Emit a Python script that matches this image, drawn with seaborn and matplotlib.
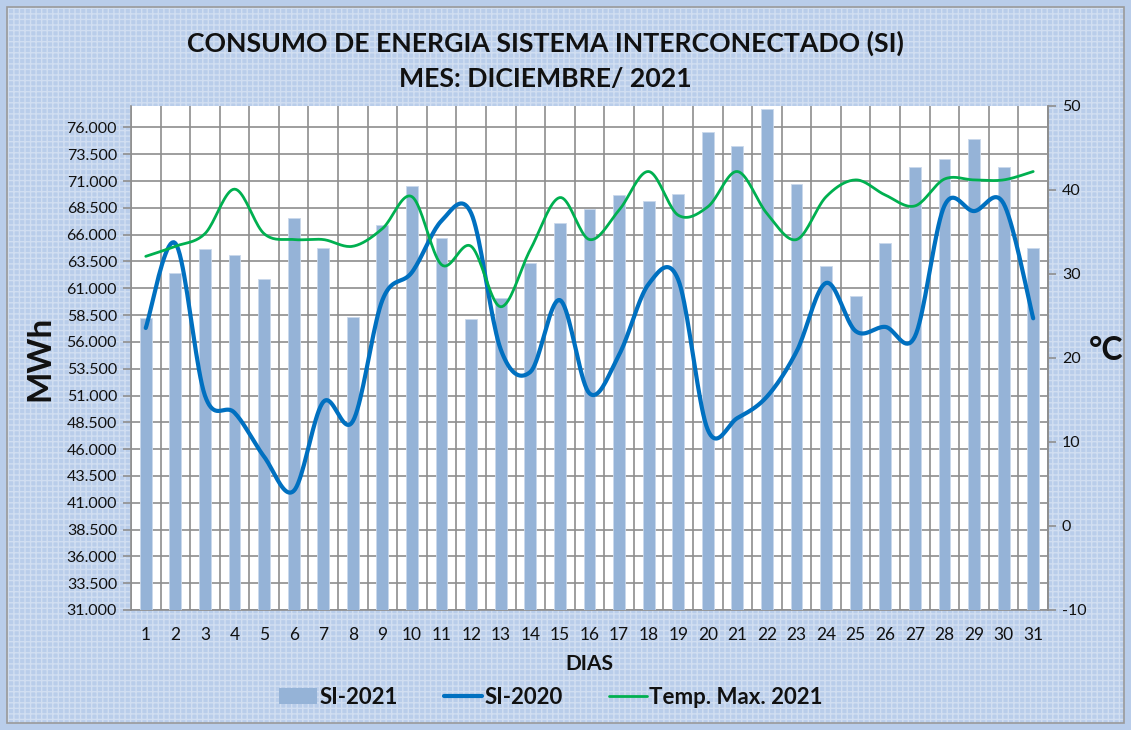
import numpy as np
import pandas as pd
import seaborn as sns
import matplotlib
matplotlib.use("Agg")
import matplotlib.pyplot as plt
from matplotlib.patches import Patch, Rectangle
from matplotlib.lines import Line2D

# ---------------- data ----------------
days = [str(d) for d in range(1, 32)]
si_2021 = [58.2, 62.4, 64.7, 64.1, 61.9, 67.6, 64.8, 58.3, 66.9, 70.5, 65.7,
           58.1, 60.1, 63.4, 67.1, 68.4, 69.7, 69.1, 69.8, 75.6, 74.3, 77.7,
           70.7, 63.1, 60.3, 65.2, 72.3, 73.1, 74.9, 72.3, 64.8]
si_2020 = [57.3, 65.2, 51.0, 49.4, 45.3, 42.1, 50.4, 48.6, 59.9, 62.5, 67.3,
           68.0, 55.3, 53.2, 59.9, 51.2, 54.8, 61.4, 61.8, 47.8, 48.9, 50.9,
           55.1, 61.5, 57.0, 57.4, 56.5, 68.7, 68.2, 68.9, 58.2]
temp_max_2021 = [32.1, 33.3, 34.8, 40.1, 34.8, 34.1, 34.1, 33.3, 35.4, 39.2, 31.1,
                 33.3, 26.1, 32.9, 39.1, 34.1, 37.6, 42.2, 37.0, 38.0, 42.2, 37.2,
                 34.1, 39.2, 41.2, 39.4, 38.1, 41.3, 41.2, 41.2, 42.2]
left_ticks = np.arange(31, 76.01, 2.5)
left_tick_labels = [f"{v:.3f}" for v in left_ticks]
right_ticks = list(range(-10, 51, 10))

title = "CONSUMO DE ENERGIA SISTEMA INTERCONECTADO (SI)\nMES: DICIEMBRE/ 2021"


def smooth(y, n=20):
    """Excel-style smoothed line (Bezier through every point)."""
    y = np.asarray(y, float)
    x = np.arange(len(y), dtype=float)
    P = np.column_stack([x, y])
    out = []
    for i in range(len(P) - 1):
        p0 = P[max(i - 1, 0)]
        p1 = P[i]
        p2 = P[i + 1]
        p3 = P[min(i + 2, len(P) - 1)]
        c1 = p1 + (p2 - p0) / 6.0
        c2 = p2 - (p3 - p1) / 6.0
        t = np.linspace(0, 1, n, endpoint=(i == len(P) - 2))[:, None]
        seg = ((1 - t) ** 3) * p1 + 3 * ((1 - t) ** 2) * t * c1 + 3 * (1 - t) * t ** 2 * c2 + t ** 3 * p2
        out.append(seg)
    out = np.vstack(out)
    return pd.DataFrame({"x": out[:, 0], "y": out[:, 1]})


sns.set_theme(style="white")
font = ["Lato", "DejaVu Sans"]
plt.rcParams["font.family"] = font

BG = "#b9cdea"
BAR = "#95b3d7"
BLUE = "#0070c0"
GREEN = "#00b050"
GRID = "#8e8e8e"
TXT = "#111111"

fig = plt.figure(figsize=(11.31, 7.30), dpi=100)
fig.patch.set_facecolor(BG)
# plaid-like background texture
fig.patches.append(Rectangle((0.006, 0.01), 0.988, 0.98, transform=fig.transFigure,
                             facecolor="none", edgecolor="#ffffff", hatch="+++",
                             linewidth=0, alpha=0.35, zorder=-10))
fig.patches.append(Rectangle((0.006, 0.01), 0.988, 0.98, transform=fig.transFigure,
                             facecolor="none", edgecolor="#9a9a9a", linewidth=1.2,
                             zorder=-9))

ax = fig.add_axes([0.1158, 0.1644, 0.8108, 0.6904])
ax.set_facecolor("white")

df = pd.DataFrame({"dia": days, "si2021": si_2021})
sns.barplot(data=df, x="dia", y="si2021", color=BAR, width=0.4, saturation=1,
            edgecolor="#c9d8ec", linewidth=0.6, ax=ax, zorder=3)

ax.set_ylim(31, 78)
ax.set_xlim(-0.5, 30.5)
ax.set_yticks(left_ticks)
ax.set_yticklabels(left_tick_labels, fontsize=11.5, color=TXT)
ax.set_xticks(range(31))
ax.set_xticklabels(days, fontsize=12.5, color=TXT)
ax.set_xticks(np.arange(-0.5, 31, 1.0), minor=True)
ax.tick_params(axis="x", which="major", length=0, pad=12)
ax.tick_params(axis="x", which="minor", length=6, width=1.2, color=GRID, direction="out")
ax.tick_params(axis="y", length=6, width=1.2, color=GRID, direction="out", pad=4)
ax.grid(axis="y", which="major", color=GRID, linewidth=1.2, zorder=0)
ax.grid(axis="x", which="minor", color=GRID, linewidth=1.2, zorder=0)
ax.set_axisbelow(True)
for s in ["left", "bottom", "right"]:
    ax.spines[s].set_color(GRID)
    ax.spines[s].set_linewidth(1.2)
ax.spines["top"].set_visible(False)
ax.set_xlabel("DIAS", fontsize=15, fontweight="bold", color=TXT, labelpad=8)
ax.set_ylabel("MWh", fontsize=24, fontweight="bold", color=TXT, labelpad=6)

s20 = smooth(si_2020)
sns.lineplot(data=s20, x="x", y="y", sort=False, color=BLUE, linewidth=3.0,
             ax=ax, zorder=5, estimator=None)

ax2 = ax.twinx()
ax2.set_ylim(-10, 50)
ax2.set_yticks(right_ticks)
ax2.set_yticklabels([str(v) for v in right_ticks], fontsize=11.5, color=TXT)
ax2.tick_params(axis="y", length=6, width=1.2, color=GRID, direction="out", pad=4)
for s in ["left", "bottom", "top"]:
    ax2.spines[s].set_visible(False)
ax2.spines["right"].set_color(GRID)
ax2.spines["right"].set_linewidth(1.2)
st = smooth(temp_max_2021)
sns.lineplot(data=st, x="x", y="y", sort=False, color=GREEN, linewidth=2.0,
             ax=ax2, zorder=6, estimator=None)
ax2.set_ylabel("")
ax2.set_xlabel("")
ax2.set_xlim(-0.5, 30.5)
ax2.patch.set_visible(False)
ax.set_zorder(1)
ax2.set_zorder(2)
ax.yaxis.set_label_coords(-0.083, 0.5)

fig.text(0.978, 0.52, "°C", fontsize=23, fontweight="bold", color=TXT,
         ha="center", va="center")

fig.text(0.482, 0.917, title, fontsize=19.2, fontweight="bold", color=TXT,
         ha="center", va="center", linespacing=1.55)

handles = [Patch(facecolor=BAR, edgecolor="none", label="SI-2021"),
           Line2D([0], [0], color=BLUE, linewidth=3.0, label="SI-2020"),
           Line2D([0], [0], color=GREEN, linewidth=2.0, label="Temp. Max. 2021")]
leg = fig.legend(handles=handles, loc="center", bbox_to_anchor=(0.487, 0.045), ncol=3,
                 frameon=False, handlelength=1.7, handletextpad=0.1, columnspacing=2.1,
                 prop={"family": font, "weight": "bold", "size": 16})
for t in leg.get_texts():
    t.set_color(TXT)

fig.savefig("out.png", dpi=100, facecolor=fig.get_facecolor())
